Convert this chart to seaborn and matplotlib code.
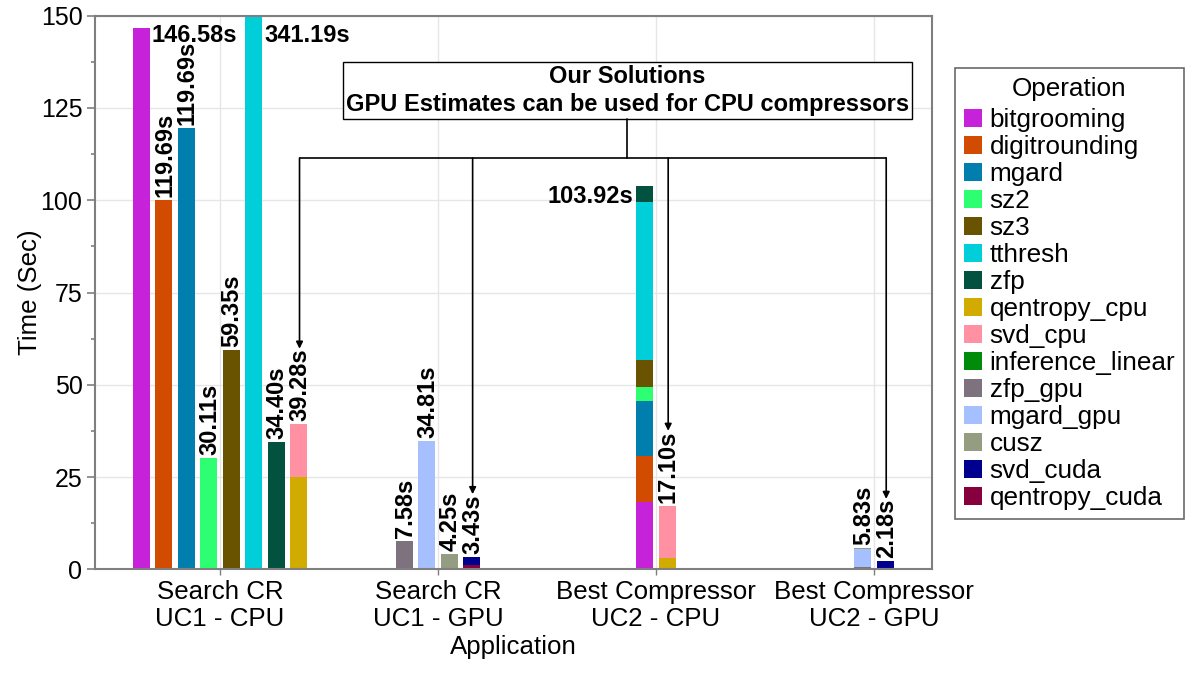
import numpy as np
import pandas as pd
import seaborn as sns
import matplotlib.pyplot as plt
from matplotlib.patches import Patch
from matplotlib.ticker import MultipleLocator

applications = [
    "Search CR\nUC1 - CPU",
    "Search CR\nUC1 - GPU",
    "Best Compressor\nUC2 - CPU",
    "Best Compressor\nUC2 - GPU",
]

operations = [
    "bitgrooming", "digitrounding", "mgard", "sz2", "sz3", "tthresh", "zfp",
    "qentropy_cpu", "svd_cpu", "inference_linear", "zfp_gpu", "mgard_gpu",
    "cusz", "svd_cuda", "qentropy_cuda",
]
op_colors = [
    "#c622d9", "#d14b00", "#007fae", "#2eff72", "#695300", "#00cfd9", "#02523f",
    "#d2ab00", "#ff91a3", "#008b0a", "#7d727e", "#a6c0ff",
    "#949c82", "#00008f", "#85003d",
]

# one entry per bar: which application it belongs to and its printed total
bar_app = [0, 0, 0, 0, 0, 0, 0, 0, 1, 1, 1, 1, 2, 2, 3, 3]
bar_label = [
    "146.58s", "119.69s", "119.69s", "30.11s", "59.35s", "341.19s", "34.40s", "39.28s",
    "7.58s", "34.81s", "4.25s", "3.43s",
    "103.92s", "17.10s",
    "5.83s", "2.18s",
]
label_side = ["right", "up", "up", "up", "up", "right", "up", "up",
              "up", "up", "up", "up", "left", "up", "up", "up"]

# stacked segments (bottom to top)
seg_bar = [0, 1, 2, 3, 4, 5, 6, 7, 7,
           8, 9, 10, 11, 11,
           12, 12, 12, 12, 12, 12, 12, 13, 13,
           14, 14, 14, 15, 15]
seg_op = ["bitgrooming", "digitrounding", "mgard", "sz2", "sz3", "tthresh", "zfp",
          "qentropy_cpu", "svd_cpu",
          "zfp_gpu", "mgard_gpu", "cusz", "qentropy_cuda", "svd_cuda",
          "bitgrooming", "digitrounding", "mgard", "sz2", "sz3", "tthresh", "zfp",
          "qentropy_cpu", "svd_cpu",
          "zfp_gpu", "mgard_gpu", "cusz", "qentropy_cuda", "svd_cuda"]
seg_time = [146.58, 100.0, 119.69, 30.11, 59.35, 341.19, 34.40, 25.10, 14.18,
            7.58, 34.81, 4.25, 1.20, 2.23,
            18.17, 12.56, 15.00, 3.72, 7.32, 42.85, 4.30, 3.00, 14.10,
            0.55, 4.98, 0.30, 0.12, 2.06]

# bars that the "Our Solutions" note points to
solution_bars = [7, 11, 13, 15]

note_text = "Our Solutions\nGPU Estimates can be used for CPU compressors"

sns.set_theme(style="white")
plt.rcParams["font.family"] = ["Liberation Sans", "DejaVu Sans"]
plt.rcParams["text.color"] = "black"
plt.rcParams["axes.labelcolor"] = "black"
plt.rcParams["xtick.labelcolor"] = "black"
plt.rcParams["ytick.labelcolor"] = "black"

color_map = dict(zip(operations, op_colors))
slot = 0.103
width = 0.078
ymax = 150

# bar positions inside each application group
bars = pd.DataFrame({"app": bar_app, "label": bar_label, "side": label_side})
bars["k"] = bars.groupby("app").cumcount()
bars["n"] = bars.groupby("app")["app"].transform("count")
bars["x"] = bars["app"] + (bars["k"] - (bars["n"] - 1) / 2) * slot

df = pd.DataFrame({"bar": seg_bar, "op": seg_op, "time": seg_time})
df["bottom"] = df.groupby("bar")["time"].cumsum() - df["time"]
df["x"] = bars.loc[df["bar"], "x"].values
bars["total"] = df.groupby("bar")["time"].sum()

fig = plt.figure(figsize=(12.01, 6.76), dpi=100)
ax = fig.add_axes([0.0791, 0.1578, 0.6969, 0.819])

ax.bar(df["x"], df["time"], bottom=df["bottom"], width=width,
       color=[color_map[o] for o in df["op"]], linewidth=0, zorder=2)

ax.set_xlim(-0.573, 3.266)
ax.set_ylim(0, ymax)
ax.set_xticks(range(len(applications)))
ax.set_xticklabels(applications, fontsize=18.6, linespacing=1.15)
ax.yaxis.set_major_locator(MultipleLocator(25))
ax.yaxis.set_minor_locator(MultipleLocator(12.5))
ax.tick_params(axis="y", which="major", labelsize=18, length=6, width=1.2,
               color="#7f7f7f", direction="out", left=True, pad=3)
ax.tick_params(axis="y", which="minor", length=3, width=1.2, color="#7f7f7f",
               direction="out", left=True)
ax.tick_params(axis="x", length=4, width=1, color="#7f7f7f", direction="out",
               bottom=True, pad=4)
ax.grid(True, which="major", color="#e6e6e6", linewidth=1, zorder=0)
ax.set_axisbelow(True)
for sp in ax.spines.values():
    sp.set_color("#7f7f7f")
    sp.set_linewidth(1.5)

ax.set_ylabel("Time (Sec)", fontsize=18.6)
ax.set_xlabel("Application", fontsize=18.6)
ax.yaxis.set_label_coords(-0.0777, 0.5)
ax.xaxis.set_label_coords(0.5, -0.1395)
ax.xaxis.label.set_va("center")
ax.yaxis.label.set_va("center")

# total labels
texts = {}
for i, row in bars.iterrows():
    if row["side"] == "up":
        t = ax.annotate(row["label"], (row["x"], row["total"]),
                        xytext=(1, 3), textcoords="offset pixels",
                        rotation=90, ha="center", va="bottom",
                        fontsize=17, fontweight="bold", zorder=3)
    elif row["side"] == "right":
        t = ax.annotate(row["label"], (row["x"] + width / 2, min(row["total"], ymax * 0.97)),
                        xytext=(2, -3), textcoords="offset pixels",
                        ha="left", va="center",
                        fontsize=17, fontweight="bold", zorder=3,
                        annotation_clip=False)
    else:
        t = ax.annotate(row["label"], (row["x"] - width / 2, row["total"]),
                        xytext=(-3, 1), textcoords="offset pixels",
                        ha="right", va="top",
                        fontsize=17, fontweight="bold", zorder=3)
    texts[i] = t

note = ax.text(0.636, 0.865, note_text, transform=ax.transAxes,
               ha="center", va="center", fontsize=17, fontweight="bold",
               linespacing=1.25, zorder=4,
               bbox=dict(boxstyle="square,pad=0.13", fc="white", ec="black", lw=1))

# connector lines from the note box to the solution bars
fig.canvas.draw()
inv = ax.transData.inverted()
note_box = note.get_bbox_patch().get_window_extent()
box_x, box_y = inv.transform((note_box.x0 + note_box.width / 2, note_box.y0))
bracket_y = inv.transform((0, ax.transAxes.transform((0, 0.743))[1]))[1]

tips = []
for b in solution_bars:
    bb = texts[b].get_window_extent()
    tips.append(inv.transform(((bb.x0 + bb.x1) / 2, bb.y1)))
tips = np.array(tips)

ax.plot([box_x, box_x], [box_y, bracket_y], color="black", lw=1.2, zorder=4)
ax.plot([tips[:, 0].min(), tips[:, 0].max()], [bracket_y, bracket_y],
        color="black", lw=1.2, zorder=4)
for tx, ty in tips:
    ax.annotate("", xy=(tx, ty), xytext=(tx, bracket_y),
                arrowprops=dict(arrowstyle="-|>", color="black", lw=1.2,
                                mutation_scale=10, shrinkA=0, shrinkB=0),
                zorder=4)

handles = [Patch(facecolor=c, edgecolor="none", label=o) for o, c in zip(operations, op_colors)]
leg = ax.legend(handles=handles, title="Operation", loc="upper left",
                bbox_to_anchor=(0.795, 0.8994), bbox_transform=fig.transFigure,
                fontsize=18.8, title_fontsize=18.8, frameon=True, fancybox=False,
                borderaxespad=0, handlelength=0.68, handleheight=0.68,
                handletextpad=0.3, labelspacing=0.115, borderpad=0.35)
leg._legend_box.sep = 5
leg.get_frame().set_edgecolor("#444444")
leg.get_frame().set_linewidth(1.2)

fig.savefig("out.png", dpi=100)
